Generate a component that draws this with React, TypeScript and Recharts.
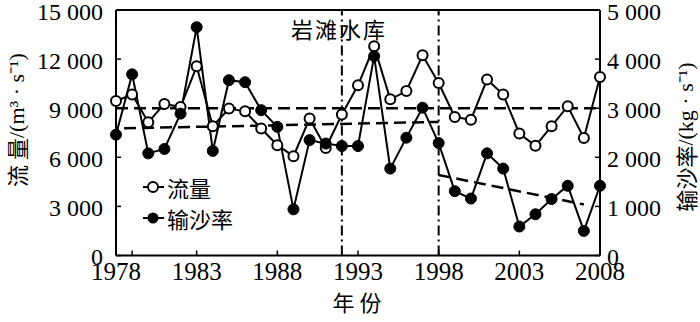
import { ComposedChart, Line, XAxis, YAxis, ReferenceLine } from 'recharts'

// 年份
const YEARS = [
  1978, 1979, 1980, 1981, 1982, 1983, 1984, 1985, 1986, 1987, 1988, 1989, 1990, 1991, 1992, 1993,
  1994, 1995, 1996, 1997, 1998, 1999, 2000, 2001, 2002, 2003, 2004, 2005, 2006, 2007, 2008,
]

// 流量 (m3/s)
const FLOW = [
  9440, 9830, 8140, 9260, 9070, 11560, 7900, 8980, 8810, 7760, 6740, 6070, 8370, 6570, 8610, 10400,
  12780, 9540, 10050, 12230, 10540, 8460, 8300, 10750, 9830, 7450, 6700, 7900, 9120, 7180, 10900,
]

// 输沙率 (kg/s)
const SEDIMENT = [
  2460, 3690, 2080, 2170, 2890, 4650, 2130, 3570, 3530, 2960, 2620, 940, 2350, 2280, 2230, 2230,
  4060, 1770, 2400, 3010, 2290, 1310, 1160, 2080, 1770, 590, 840, 1150, 1420, 500, 1420,
]

// trend / mean lines
const FLOW_MEAN = 9000
const SED_TREND_BEFORE_X = [1978.5, 1998]
const SED_TREND_BEFORE_Y = [2590, 2720]
const SED_TREND_AFTER_X = [1998, 2007]
const SED_TREND_AFTER_Y = [1640, 1040]

// 岩滩水库 period markers
const DAM_YEARS = [1992, 1998]

// 1979 has a tick mark but no label in the original
const X_TICKS = [1978, 1979, 1983, 1988, 1993, 1998, 2003, 2008]
const X_LABELS = [1978, 1983, 1988, 1993, 1998, 2003, 2008]
const LEFT_TICKS = [0, 3000, 6000, 9000, 12000, 15000]
const RIGHT_TICKS = [0, 1000, 2000, 3000, 4000, 5000]

const SERIF = 'Liberation Serif'
const CJK = 'Noto Sans CJK SC'

const fmt = (v: number) => String(v).replace(/\B(?=(\d{3})+(?!\d))/g, ' ')

export default function App() {
  const rows = YEARS.map((year, i) => ({ year, flow: FLOW[i], sed: SEDIMENT[i] }))

  return (
    <div style={{ position: 'absolute', left: 0, top: 0, width: 700, height: 322, background: '#fff' }}>
      <ComposedChart width={700} height={322} data={rows} margin={{ top: 10, right: 0, bottom: 0, left: 0 }}>
        <XAxis
          dataKey="year"
          type="number"
          domain={[1978, 2008]}
          ticks={X_TICKS}
          tickFormatter={(v: number) => (X_LABELS.includes(v) ? String(v) : '')}
          height={66.5}
          tickSize={-5}
          tickMargin={12}
          axisLine={{ stroke: '#000', strokeWidth: 2 }}
          tickLine={{ stroke: '#000', strokeWidth: 1.5 }}
          tick={{ fill: '#000', fontSize: 25, fontFamily: SERIF }}
          interval={0}
        />
        <YAxis
          yAxisId="left"
          domain={[0, 15000]}
          ticks={LEFT_TICKS}
          width={116}
          tickSize={-5}
          tickMargin={18}
          axisLine={{ stroke: '#000', strokeWidth: 2 }}
          tickLine={{ stroke: '#000', strokeWidth: 1.5 }}
          tick={{ fill: '#000', fontSize: 24, fontFamily: SERIF, dy: 1 }}
          tickFormatter={fmt}
          interval={0}
        />
        <YAxis
          yAxisId="right"
          orientation="right"
          domain={[0, 5000]}
          ticks={RIGHT_TICKS}
          width={100}
          tickSize={-5}
          tickMargin={12}
          axisLine={{ stroke: '#000', strokeWidth: 2 }}
          tickLine={{ stroke: '#000', strokeWidth: 1.5 }}
          tick={{ fill: '#000', fontSize: 24, fontFamily: SERIF, textAnchor: 'start', dy: 1 }}
          tickFormatter={fmt}
          interval={0}
        />

        {/* top frame */}
        <ReferenceLine yAxisId="left" y={15000} stroke="#000" strokeWidth={2} />

        {/* mean / trend lines */}
        <ReferenceLine
          yAxisId="left"
          segment={[
            { x: 1978, y: FLOW_MEAN },
            { x: 2008, y: FLOW_MEAN },
          ]}
          stroke="#000"
          strokeWidth={2.5}
          strokeDasharray="12 6"
        />
        <ReferenceLine
          yAxisId="right"
          segment={[
            { x: SED_TREND_BEFORE_X[0], y: SED_TREND_BEFORE_Y[0] },
            { x: SED_TREND_BEFORE_X[1], y: SED_TREND_BEFORE_Y[1] },
          ]}
          stroke="#000"
          strokeWidth={2.5}
          strokeDasharray="12 6"
        />
        <ReferenceLine
          yAxisId="right"
          segment={[
            { x: SED_TREND_AFTER_X[0], y: SED_TREND_AFTER_Y[0] },
            { x: SED_TREND_AFTER_X[1], y: SED_TREND_AFTER_Y[1] },
          ]}
          stroke="#000"
          strokeWidth={2.5}
          strokeDasharray="12 6"
        />

        {DAM_YEARS.map((yr) => (
          <ReferenceLine key={yr} yAxisId="left" x={yr} stroke="#000" strokeWidth={2} strokeDasharray="10 4 2 4" />
        ))}

        <Line
          yAxisId="left"
          dataKey="flow"
          stroke="#000"
          strokeWidth={2}
          dot={{ r: 5, fill: '#fff', stroke: '#000', strokeWidth: 2 }}
          isAnimationActive={false}
        />
        <Line
          yAxisId="right"
          dataKey="sed"
          stroke="#000"
          strokeWidth={2}
          dot={{ r: 5.5, fill: '#000', stroke: '#000', strokeWidth: 1 }}
          isAnimationActive={false}
        />

        {/* annotation */}
        <text x={339} y={28} textAnchor="middle" dominantBaseline="central" fontSize={22} letterSpacing={2} fill="#000" fontFamily={CJK}>
          岩滩水库
        </text>

        {/* legend */}
        <g>
          <line x1={143} x2={164} y1={187} y2={187} stroke="#000" strokeWidth={2} />
          <circle cx={153} cy={187} r={5} fill="#fff" stroke="#000" strokeWidth={2} />
          <text x={167} y={187} dominantBaseline="central" fontSize={22} fill="#000" fontFamily={CJK}>
            流量
          </text>
          <line x1={143} x2={164} y1={218} y2={218} stroke="#000" strokeWidth={2} />
          <circle cx={153} cy={218} r={5.5} fill="#000" />
          <text x={167} y={218} dominantBaseline="central" fontSize={22} fill="#000" fontFamily={CJK}>
            输沙率
          </text>
        </g>

        {/* axis titles */}
        <text transform="translate(16,120) rotate(-90)" textAnchor="middle" dominantBaseline="central" fontSize={22} fill="#000">
          <tspan fontFamily={CJK}>流 量</tspan>
          <tspan fontFamily={SERIF}>/(m³ · s⁻¹)</tspan>
        </text>
        <text transform="translate(685,137) rotate(-90)" textAnchor="middle" dominantBaseline="central" fontSize={22} fill="#000">
          <tspan fontFamily={CJK}>输沙率</tspan>
          <tspan fontFamily={SERIF}>/(kg · s⁻¹)</tspan>
        </text>
        <text x={357} y={301} textAnchor="middle" dominantBaseline="central" fontSize={22} fill="#000" fontFamily={CJK}>
          年 份
        </text>
      </ComposedChart>
    </div>
  )
}
